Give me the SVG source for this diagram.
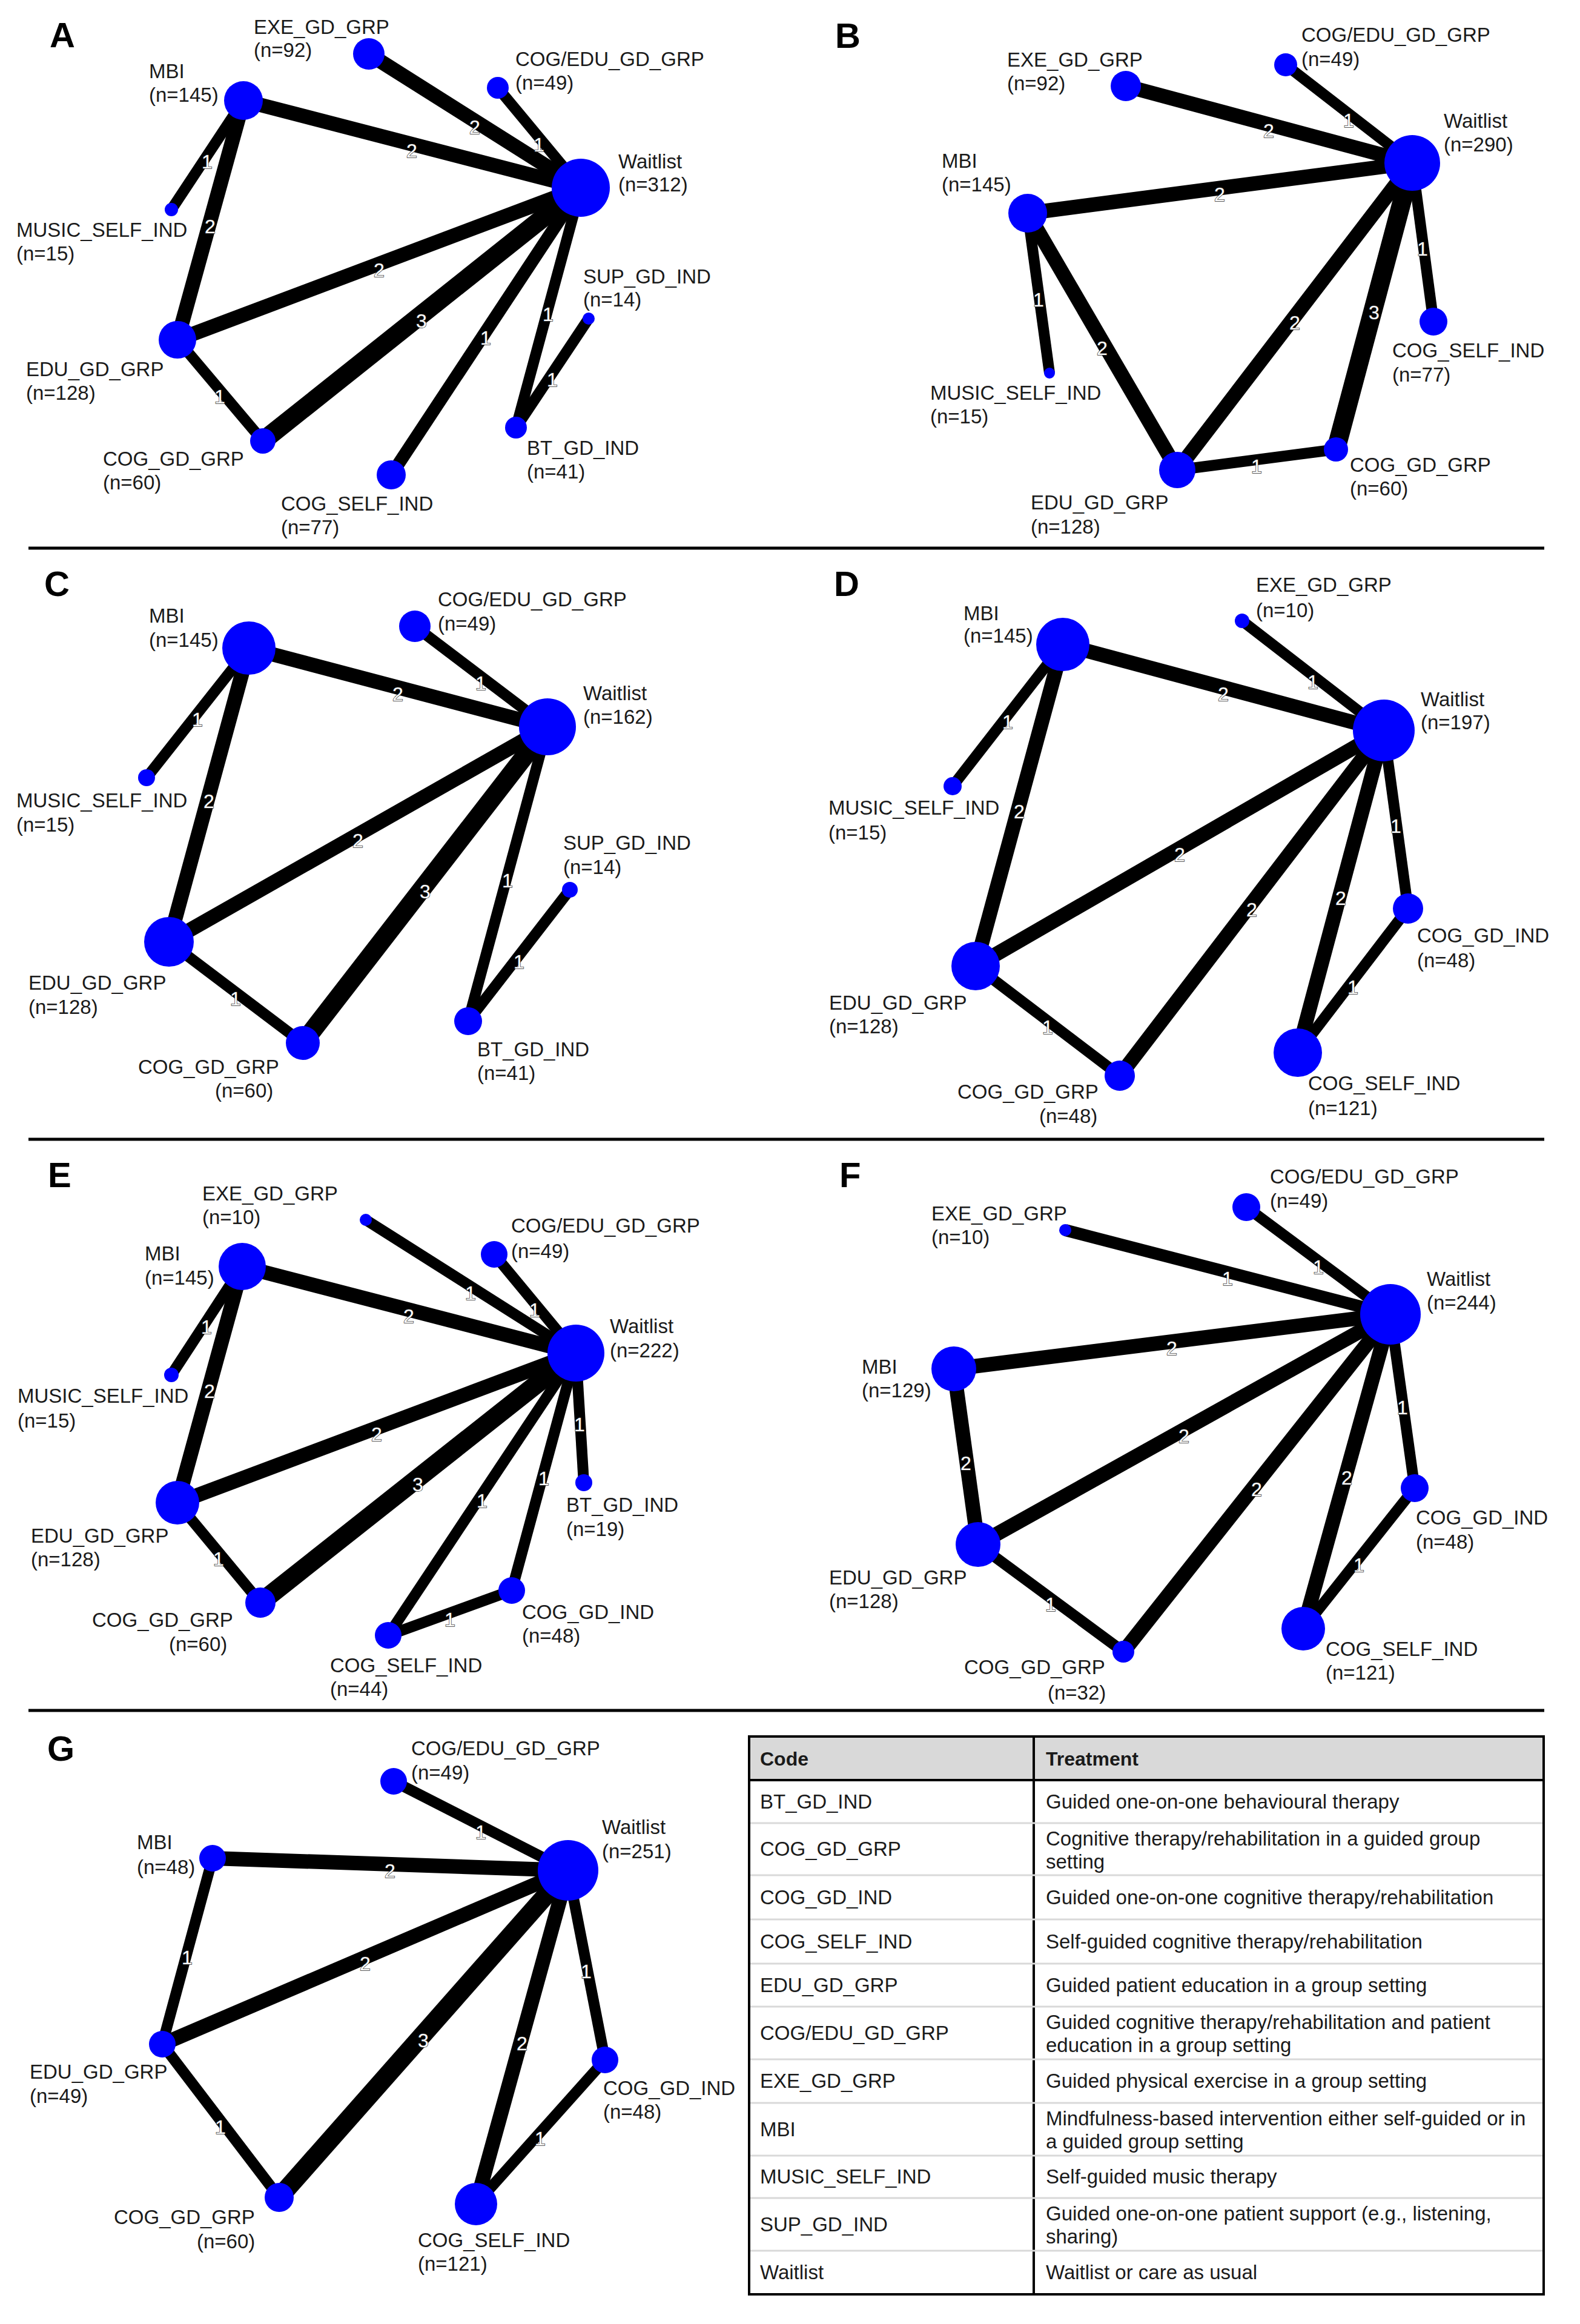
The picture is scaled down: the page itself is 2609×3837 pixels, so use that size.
<svg xmlns="http://www.w3.org/2000/svg" width="2609" height="3837" viewBox="0 0 2609 3837">
<style>
.t{font-family:"Liberation Sans",Arial,sans-serif;font-size:33px;fill:#1a1a1a}
.p{font-family:"Liberation Sans",Arial,sans-serif;font-size:58px;font-weight:bold;fill:#000}
.n{font-family:"Liberation Sans",Arial,sans-serif;font-size:32px;fill:#fff;stroke:#333;stroke-width:1.5px;paint-order:stroke;text-anchor:middle}
.w1{stroke:#000;stroke-width:18;stroke-linecap:butt}
.w2{stroke:#000;stroke-width:24;stroke-linecap:butt}
.w3{stroke:#000;stroke-width:31;stroke-linecap:butt}
.nd{fill:#0000ff}
.sep{stroke:#000;stroke-width:5}
.tb{font-family:"Liberation Sans",Arial,sans-serif;font-size:33px;fill:#1a1a1a}
.th{font-family:"Liberation Sans",Arial,sans-serif;font-size:32px;font-weight:bold;fill:#1a1a1a}
.rl{stroke:#d9d9d9;stroke-width:3}
</style>
<rect x="0" y="0" width="2609" height="3837" fill="#fff"/>
<g id="separators">
<line class="sep" x1="47" y1="905" x2="2550" y2="905"/>
<line class="sep" x1="47" y1="1881" x2="2550" y2="1881"/>
<line class="sep" x1="47" y1="2824" x2="2550" y2="2824"/>
</g>
<g id="panel-letters">
<text class="p" x="82" y="78">A</text>
<text class="p" x="1379" y="79">B</text>
<text class="p" x="73" y="984">C</text>
<text class="p" x="1377" y="984">D</text>
<text class="p" x="79" y="1960">E</text>
<text class="p" x="1386" y="1960">F</text>
<text class="p" x="78" y="2907">G</text>
</g>

<!-- ===== Panel A ===== -->
<g id="A-connectors">
<line class="w2" x1="609" y1="89" x2="959" y2="310"/>
<line class="w1" x1="822" y1="145" x2="959" y2="310"/>
<line class="w2" x1="402" y1="166" x2="959" y2="310"/>
<line class="w1" x1="402" y1="166" x2="283" y2="346"/>
<line class="w2" x1="402" y1="166" x2="293" y2="561"/>
<line class="w2" x1="293" y1="561" x2="959" y2="310"/>
<line class="w1" x1="293" y1="561" x2="434" y2="728"/>
<line class="w3" x1="434" y1="728" x2="959" y2="310"/>
<line class="w1" x1="646" y1="784" x2="959" y2="310" style="stroke-width:21"/>
<line class="w1" x1="852" y1="706" x2="959" y2="310"/>
<line class="w1" x1="852" y1="706" x2="972" y2="526"/>
<text class="n" x="784" y="221">2</text>
<text class="n" x="890" y="250">1</text>
<text class="n" x="680" y="260">2</text>
<text class="n" x="342" y="278">1</text>
<text class="n" x="347" y="385">2</text>
<text class="n" x="626" y="457">2</text>
<text class="n" x="363" y="666">1</text>
<text class="n" x="696" y="541">3</text>
<text class="n" x="802" y="569">1</text>
<text class="n" x="905" y="530">1</text>
<text class="n" x="912" y="638">1</text>
</g>
<g id="A-Waitlist"><circle class="nd" cx="959" cy="310" r="48"/><text class="t" x="1021" y="278">Waitlist</text><text class="t" x="1021" y="316">(n=312)</text></g>
<g id="A-EXE"><circle class="nd" cx="609" cy="89" r="26"/><text class="t" x="419" y="56">EXE_GD_GRP</text><text class="t" x="419" y="94">(n=92)</text></g>
<g id="A-COGEDU"><circle class="nd" cx="822" cy="145" r="18"/><text class="t" x="851" y="109">COG/EDU_GD_GRP</text><text class="t" x="851" y="148">(n=49)</text></g>
<g id="A-MBI"><circle class="nd" cx="402" cy="166" r="32"/><text class="t" x="246" y="129">MBI</text><text class="t" x="246" y="168">(n=145)</text></g>
<g id="A-MUSIC"><circle class="nd" cx="283" cy="346" r="11"/><text class="t" x="27" y="391">MUSIC_SELF_IND</text><text class="t" x="27" y="430">(n=15)</text></g>
<g id="A-SUP"><circle class="nd" cx="972" cy="526" r="10"/><text class="t" x="963" y="468">SUP_GD_IND</text><text class="t" x="963" y="506">(n=14)</text></g>
<g id="A-EDU"><circle class="nd" cx="293" cy="561" r="31"/><text class="t" x="43" y="621">EDU_GD_GRP</text><text class="t" x="43" y="660">(n=128)</text></g>
<g id="A-BT"><circle class="nd" cx="852" cy="706" r="18"/><text class="t" x="870" y="751">BT_GD_IND</text><text class="t" x="870" y="790">(n=41)</text></g>
<g id="A-COGGRP"><circle class="nd" cx="434" cy="728" r="21"/><text class="t" x="170" y="769">COG_GD_GRP</text><text class="t" x="170" y="808">(n=60)</text></g>
<g id="A-COGSELF"><circle class="nd" cx="646" cy="784" r="24"/><text class="t" x="464" y="843">COG_SELF_IND</text><text class="t" x="464" y="882">(n=77)</text></g>

<!-- ===== Panel B ===== -->
<g id="B-connectors">
<line class="w2" x1="1859" y1="142" x2="2332" y2="269"/>
<line class="w1" x1="2123" y1="107" x2="2332" y2="269"/>
<line class="w2" x1="1697" y1="352" x2="2332" y2="269"/>
<line class="w1" x1="1697" y1="352" x2="1733" y2="616"/>
<line class="w2" x1="1697" y1="352" x2="1944" y2="776"/>
<line class="w2" x1="1944" y1="776" x2="2332" y2="269"/>
<line class="w1" x1="1944" y1="776" x2="2206" y2="742"/>
<line class="w3" x1="2206" y1="742" x2="2332" y2="269"/>
<line class="w1" x1="2367" y1="531" x2="2332" y2="269"/>
<text class="n" x="2095" y="227">2</text>
<text class="n" x="2227" y="210">1</text>
<text class="n" x="2014" y="332">2</text>
<text class="n" x="1715" y="506">1</text>
<text class="n" x="1820" y="586">2</text>
<text class="n" x="2138" y="544">2</text>
<text class="n" x="2075" y="781">1</text>
<text class="n" x="2269" y="527">3</text>
<text class="n" x="2349" y="422">1</text>
</g>
<g id="B-Waitlist"><circle class="nd" cx="2332" cy="269" r="46"/><text class="t" x="2384" y="211">Waitlist</text><text class="t" x="2384" y="250">(n=290)</text></g>
<g id="B-EXE"><circle class="nd" cx="1859" cy="142" r="25"/><text class="t" x="1663" y="110">EXE_GD_GRP</text><text class="t" x="1663" y="149">(n=92)</text></g>
<g id="B-COGEDU"><circle class="nd" cx="2123" cy="107" r="19"/><text class="t" x="2149" y="69">COG/EDU_GD_GRP</text><text class="t" x="2149" y="109">(n=49)</text></g>
<g id="B-MBI"><circle class="nd" cx="1697" cy="352" r="32"/><text class="t" x="1555" y="277">MBI</text><text class="t" x="1555" y="316">(n=145)</text></g>
<g id="B-MUSIC"><circle class="nd" cx="1733" cy="616" r="9"/><text class="t" x="1536" y="660">MUSIC_SELF_IND</text><text class="t" x="1536" y="699">(n=15)</text></g>
<g id="B-COGSELF"><circle class="nd" cx="2367" cy="531" r="23"/><text class="t" x="2299" y="590">COG_SELF_IND</text><text class="t" x="2299" y="630">(n=77)</text></g>
<g id="B-COGGRP"><circle class="nd" cx="2206" cy="742" r="20"/><text class="t" x="2229" y="779">COG_GD_GRP</text><text class="t" x="2229" y="818">(n=60)</text></g>
<g id="B-EDU"><circle class="nd" cx="1944" cy="776" r="30"/><text class="t" x="1702" y="841">EDU_GD_GRP</text><text class="t" x="1702" y="881">(n=128)</text></g>

<!-- ===== Panel C ===== -->
<g id="C-connectors">
<line class="w2" x1="411" y1="1070" x2="904" y2="1200"/>
<line class="w1" x1="685" y1="1034" x2="904" y2="1200"/>
<line class="w1" x1="411" y1="1070" x2="242" y2="1284"/>
<line class="w2" x1="411" y1="1070" x2="279" y2="1555"/>
<line class="w2" x1="279" y1="1555" x2="904" y2="1200"/>
<line class="w1" x1="279" y1="1555" x2="500" y2="1722"/>
<line class="w3" x1="500" y1="1722" x2="904" y2="1200"/>
<line class="w1" x1="773" y1="1686" x2="904" y2="1200"/>
<line class="w1" x1="773" y1="1686" x2="941" y2="1469"/>
<text class="n" x="657" y="1157">2</text>
<text class="n" x="794" y="1139">1</text>
<text class="n" x="326" y="1199">1</text>
<text class="n" x="345" y="1334">2</text>
<text class="n" x="591" y="1399">2</text>
<text class="n" x="389" y="1660">1</text>
<text class="n" x="702" y="1483">3</text>
<text class="n" x="838" y="1465">1</text>
<text class="n" x="857" y="1599">1</text>
</g>
<g id="C-Waitlist"><circle class="nd" cx="904" cy="1200" r="47"/><text class="t" x="963" y="1156">Waitlist</text><text class="t" x="963" y="1195">(n=162)</text></g>
<g id="C-MBI"><circle class="nd" cx="411" cy="1070" r="44"/><text class="t" x="246" y="1028">MBI</text><text class="t" x="246" y="1068">(n=145)</text></g>
<g id="C-COGEDU"><circle class="nd" cx="685" cy="1034" r="26"/><text class="t" x="723" y="1001">COG/EDU_GD_GRP</text><text class="t" x="723" y="1041">(n=49)</text></g>
<g id="C-MUSIC"><circle class="nd" cx="242" cy="1284" r="14"/><text class="t" x="27" y="1333">MUSIC_SELF_IND</text><text class="t" x="27" y="1373">(n=15)</text></g>
<g id="C-SUP"><circle class="nd" cx="941" cy="1469" r="13"/><text class="t" x="930" y="1403">SUP_GD_IND</text><text class="t" x="930" y="1443">(n=14)</text></g>
<g id="C-EDU"><circle class="nd" cx="279" cy="1555" r="41"/><text class="t" x="47" y="1634">EDU_GD_GRP</text><text class="t" x="47" y="1674">(n=128)</text></g>
<g id="C-BT"><circle class="nd" cx="773" cy="1686" r="23"/><text class="t" x="788" y="1744">BT_GD_IND</text><text class="t" x="788" y="1783">(n=41)</text></g>
<g id="C-COGGRP"><circle class="nd" cx="500" cy="1722" r="28"/><text class="t" x="228" y="1773">COG_GD_GRP</text><text class="t" x="355" y="1812">(n=60)</text></g>

<!-- ===== Panel D ===== -->
<g id="D-connectors">
<line class="w2" x1="1755" y1="1064" x2="2285" y2="1206"/>
<line class="w1" x1="2051" y1="1025" x2="2285" y2="1206"/>
<line class="w1" x1="1755" y1="1064" x2="1573" y2="1298"/>
<line class="w2" x1="1755" y1="1064" x2="1611" y2="1595"/>
<line class="w2" x1="1611" y1="1595" x2="2285" y2="1206"/>
<line class="w1" x1="1611" y1="1595" x2="1849" y2="1776"/>
<line class="w2" x1="1849" y1="1776" x2="2285" y2="1206"/>
<line class="w2" x1="2143" y1="1738" x2="2285" y2="1206"/>
<line class="w1" x1="2325" y1="1500" x2="2285" y2="1206"/>
<line class="w1" x1="2143" y1="1738" x2="2325" y2="1500"/>
<text class="n" x="2020" y="1157">2</text>
<text class="n" x="2168" y="1137">1</text>
<text class="n" x="1664" y="1203">1</text>
<text class="n" x="1683" y="1351">2</text>
<text class="n" x="1948" y="1422">2</text>
<text class="n" x="1730" y="1707">1</text>
<text class="n" x="2067" y="1513">2</text>
<text class="n" x="2214" y="1494">2</text>
<text class="n" x="2305" y="1375">1</text>
<text class="n" x="2234" y="1641">1</text>
</g>
<g id="D-Waitlist"><circle class="nd" cx="2285" cy="1206" r="51"/><text class="t" x="2346" y="1166">Waitlist</text><text class="t" x="2346" y="1204">(n=197)</text></g>
<g id="D-EXE"><circle class="nd" cx="2051" cy="1025" r="12"/><text class="t" x="2074" y="977">EXE_GD_GRP</text><text class="t" x="2074" y="1019">(n=10)</text></g>
<g id="D-MBI"><circle class="nd" cx="1755" cy="1064" r="44"/><text class="t" x="1591" y="1024">MBI</text><text class="t" x="1591" y="1061">(n=145)</text></g>
<g id="D-MUSIC"><circle class="nd" cx="1573" cy="1298" r="15"/><text class="t" x="1368" y="1345">MUSIC_SELF_IND</text><text class="t" x="1368" y="1386">(n=15)</text></g>
<g id="D-COGIND"><circle class="nd" cx="2325" cy="1500" r="25"/><text class="t" x="2340" y="1556">COG_GD_IND</text><text class="t" x="2340" y="1597">(n=48)</text></g>
<g id="D-EDU"><circle class="nd" cx="1611" cy="1595" r="40"/><text class="t" x="1369" y="1667">EDU_GD_GRP</text><text class="t" x="1369" y="1706">(n=128)</text></g>
<g id="D-COGSELF"><circle class="nd" cx="2143" cy="1738" r="40"/><text class="t" x="2160" y="1800">COG_SELF_IND</text><text class="t" x="2160" y="1841">(n=121)</text></g>
<g id="D-COGGRP"><circle class="nd" cx="1849" cy="1776" r="25"/><text class="t" x="1581" y="1814">COG_GD_GRP</text><text class="t" x="1716" y="1854">(n=48)</text></g>

<!-- ===== Panel E ===== -->
<g id="E-connectors">
<line class="w1" x1="604" y1="2014" x2="951" y2="2234"/>
<line class="w1" x1="816" y1="2071" x2="951" y2="2234"/>
<line class="w2" x1="400" y1="2091" x2="951" y2="2234"/>
<line class="w1" x1="400" y1="2091" x2="283" y2="2270"/>
<line class="w2" x1="400" y1="2091" x2="293" y2="2481"/>
<line class="w2" x1="293" y1="2481" x2="951" y2="2234"/>
<line class="w1" x1="293" y1="2481" x2="430" y2="2646"/>
<line class="w3" x1="430" y1="2646" x2="951" y2="2234"/>
<line class="w1" x1="964" y1="2448" x2="951" y2="2234"/>
<line class="w1" x1="845" y1="2626" x2="951" y2="2234"/>
<line class="w1" x1="641" y1="2700" x2="951" y2="2234"/>
<line class="w1" x1="641" y1="2700" x2="845" y2="2626"/>
<text class="n" x="777" y="2146">1</text>
<text class="n" x="883" y="2174">1</text>
<text class="n" x="675" y="2184">2</text>
<text class="n" x="341" y="2202">1</text>
<text class="n" x="346" y="2308">2</text>
<text class="n" x="622" y="2379">2</text>
<text class="n" x="361" y="2585">1</text>
<text class="n" x="690" y="2462">3</text>
<text class="n" x="957" y="2363">1</text>
<text class="n" x="898" y="2452">1</text>
<text class="n" x="796" y="2489">1</text>
<text class="n" x="743" y="2685">1</text>
</g>
<g id="E-Waitlist"><circle class="nd" cx="951" cy="2234" r="47"/><text class="t" x="1007" y="2201">Waitlist</text><text class="t" x="1007" y="2241">(n=222)</text></g>
<g id="E-EXE"><circle class="nd" cx="604" cy="2014" r="10"/><text class="t" x="334" y="1982">EXE_GD_GRP</text><text class="t" x="334" y="2021">(n=10)</text></g>
<g id="E-COGEDU"><circle class="nd" cx="816" cy="2071" r="22"/><text class="t" x="844" y="2035">COG/EDU_GD_GRP</text><text class="t" x="844" y="2077">(n=49)</text></g>
<g id="E-MBI"><circle class="nd" cx="400" cy="2091" r="39"/><text class="t" x="239" y="2081">MBI</text><text class="t" x="239" y="2121">(n=145)</text></g>
<g id="E-MUSIC"><circle class="nd" cx="283" cy="2270" r="12"/><text class="t" x="29" y="2316">MUSIC_SELF_IND</text><text class="t" x="29" y="2357">(n=15)</text></g>
<g id="E-BT"><circle class="nd" cx="964" cy="2448" r="14"/><text class="t" x="935" y="2496">BT_GD_IND</text><text class="t" x="935" y="2536">(n=19)</text></g>
<g id="E-EDU"><circle class="nd" cx="293" cy="2481" r="36"/><text class="t" x="51" y="2547">EDU_GD_GRP</text><text class="t" x="51" y="2586">(n=128)</text></g>
<g id="E-COGIND"><circle class="nd" cx="845" cy="2626" r="22"/><text class="t" x="862" y="2673">COG_GD_IND</text><text class="t" x="862" y="2712">(n=48)</text></g>
<g id="E-COGGRP"><circle class="nd" cx="430" cy="2646" r="25"/><text class="t" x="152" y="2686">COG_GD_GRP</text><text class="t" x="279" y="2726">(n=60)</text></g>
<g id="E-COGSELF"><circle class="nd" cx="641" cy="2700" r="22"/><text class="t" x="545" y="2761">COG_SELF_IND</text><text class="t" x="545" y="2800">(n=44)</text></g>

<!-- ===== Panel F ===== -->
<g id="F-connectors">
<line class="w1" x1="2058" y1="1993" x2="2296" y2="2170"/>
<line class="w1" x1="1759" y1="2031" x2="2296" y2="2170" style="stroke-width:20"/>
<line class="w2" x1="1575" y1="2260" x2="2296" y2="2170"/>
<line class="w2" x1="1575" y1="2260" x2="1615" y2="2550"/>
<line class="w2" x1="1615" y1="2550" x2="2296" y2="2170"/>
<line class="w1" x1="1615" y1="2550" x2="1855" y2="2727"/>
<line class="w2" x1="1855" y1="2727" x2="2296" y2="2170"/>
<line class="w2" x1="2152" y1="2689" x2="2296" y2="2170"/>
<line class="w1" x1="2336" y1="2457" x2="2296" y2="2170"/>
<line class="w1" x1="2152" y1="2689" x2="2336" y2="2457"/>
<text class="n" x="2177" y="2103">1</text>
<text class="n" x="2027" y="2122">1</text>
<text class="n" x="1935" y="2237">2</text>
<text class="n" x="1595" y="2427">2</text>
<text class="n" x="1955" y="2382">2</text>
<text class="n" x="1735" y="2660">1</text>
<text class="n" x="2075" y="2470">2</text>
<text class="n" x="2224" y="2451">2</text>
<text class="n" x="2316" y="2335">1</text>
<text class="n" x="2244" y="2595">1</text>
</g>
<g id="F-Waitlist"><circle class="nd" cx="2296" cy="2170" r="50"/><text class="t" x="2356" y="2123">Waitlist</text><text class="t" x="2356" y="2162">(n=244)</text></g>
<g id="F-COGEDU"><circle class="nd" cx="2058" cy="1993" r="23"/><text class="t" x="2097" y="1954">COG/EDU_GD_GRP</text><text class="t" x="2097" y="1994">(n=49)</text></g>
<g id="F-EXE"><circle class="nd" cx="1759" cy="2031" r="10"/><text class="t" x="1538" y="2015">EXE_GD_GRP</text><text class="t" x="1538" y="2054">(n=10)</text></g>
<g id="F-MBI"><circle class="nd" cx="1575" cy="2260" r="37"/><text class="t" x="1423" y="2268">MBI</text><text class="t" x="1423" y="2307">(n=129)</text></g>
<g id="F-COGIND"><circle class="nd" cx="2336" cy="2457" r="23"/><text class="t" x="2338" y="2517">COG_GD_IND</text><text class="t" x="2338" y="2557">(n=48)</text></g>
<g id="F-EDU"><circle class="nd" cx="1615" cy="2550" r="37"/><text class="t" x="1369" y="2616">EDU_GD_GRP</text><text class="t" x="1369" y="2655">(n=128)</text></g>
<g id="F-COGSELF"><circle class="nd" cx="2152" cy="2689" r="36"/><text class="t" x="2189" y="2734">COG_SELF_IND</text><text class="t" x="2189" y="2773">(n=121)</text></g>
<g id="F-COGGRP"><circle class="nd" cx="1855" cy="2727" r="18"/><text class="t" x="1592" y="2764">COG_GD_GRP</text><text class="t" x="1730" y="2806">(n=32)</text></g>

<!-- ===== Panel G ===== -->
<g id="G-connectors">
<line class="w1" x1="650" y1="2941" x2="938" y2="3088"/>
<line class="w2" x1="351" y1="3068" x2="938" y2="3088"/>
<line class="w1" x1="351" y1="3068" x2="268" y2="3375"/>
<line class="w2" x1="268" y1="3375" x2="938" y2="3088"/>
<line class="w1" x1="268" y1="3375" x2="461" y2="3628"/>
<line class="w3" x1="461" y1="3628" x2="938" y2="3088"/>
<line class="w2" x1="786" y1="3639" x2="938" y2="3088"/>
<line class="w1" x1="999" y1="3401" x2="938" y2="3088"/>
<line class="w1" x1="786" y1="3639" x2="999" y2="3401"/>
<text class="n" x="794" y="3036">1</text>
<text class="n" x="644" y="3100">2</text>
<text class="n" x="309" y="3243">1</text>
<text class="n" x="603" y="3253">2</text>
<text class="n" x="364" y="3523">1</text>
<text class="n" x="699" y="3380">3</text>
<text class="n" x="862" y="3385">2</text>
<text class="n" x="968" y="3266">1</text>
<text class="n" x="892" y="3542">1</text>
</g>
<g id="G-Waitlist"><circle class="nd" cx="938" cy="3088" r="50"/><text class="t" x="994" y="3028">Waitlist</text><text class="t" x="994" y="3068">(n=251)</text></g>
<g id="G-COGEDU"><circle class="nd" cx="650" cy="2941" r="22"/><text class="t" x="679" y="2898">COG/EDU_GD_GRP</text><text class="t" x="679" y="2938">(n=49)</text></g>
<g id="G-MBI"><circle class="nd" cx="351" cy="3068" r="22"/><text class="t" x="226" y="3053">MBI</text><text class="t" x="226" y="3094">(n=48)</text></g>
<g id="G-EDU"><circle class="nd" cx="268" cy="3375" r="22"/><text class="t" x="49" y="3432">EDU_GD_GRP</text><text class="t" x="49" y="3472">(n=49)</text></g>
<g id="G-COGIND"><circle class="nd" cx="999" cy="3401" r="22"/><text class="t" x="996" y="3459">COG_GD_IND</text><text class="t" x="996" y="3498">(n=48)</text></g>
<g id="G-COGGRP"><circle class="nd" cx="461" cy="3628" r="24"/><text class="t" x="188" y="3672">COG_GD_GRP</text><text class="t" x="325" y="3712">(n=60)</text></g>
<g id="G-COGSELF"><circle class="nd" cx="786" cy="3639" r="35"/><text class="t" x="690" y="3710">COG_SELF_IND</text><text class="t" x="690" y="3749">(n=121)</text></g>

<!-- ===== Legend table ===== -->
<g id="legend-table">
<rect x="1237" y="2867" width="1312" height="72" fill="#d9d9d9"/>
<line x1="1707" y1="2867" x2="1707" y2="3788" stroke="#000" stroke-width="4"/>
<line class="rl" x1="1239" y1="3010" x2="2547" y2="3010"/>
<line class="rl" x1="1239" y1="3096" x2="2547" y2="3096"/>
<line class="rl" x1="1239" y1="3169" x2="2547" y2="3169"/>
<line class="rl" x1="1239" y1="3242" x2="2547" y2="3242"/>
<line class="rl" x1="1239" y1="3313" x2="2547" y2="3313"/>
<line class="rl" x1="1239" y1="3400" x2="2547" y2="3400"/>
<line class="rl" x1="1239" y1="3472" x2="2547" y2="3472"/>
<line class="rl" x1="1239" y1="3559" x2="2547" y2="3559"/>
<line class="rl" x1="1239" y1="3629" x2="2547" y2="3629"/>
<line class="rl" x1="1239" y1="3716" x2="2547" y2="3716"/>
<line x1="1237" y1="2939" x2="2549" y2="2939" stroke="#000" stroke-width="4"/>
<rect x="1237" y="2867" width="1312" height="921" fill="none" stroke="#000" stroke-width="4"/>
<text class="th" x="1255" y="2915">Code</text>
<text class="th" x="1727" y="2915">Treatment</text>
<text class="tb" x="1255" y="2986">BT_GD_IND</text>
<text class="tb" x="1727" y="2986">Guided one-on-one behavioural therapy</text>
<text class="tb" x="1255" y="3064">COG_GD_GRP</text>
<text class="tb" x="1727" y="3047">Cognitive therapy/rehabilitation in a guided group</text>
<text class="tb" x="1727" y="3085">setting</text>
<text class="tb" x="1255" y="3144">COG_GD_IND</text>
<text class="tb" x="1727" y="3144">Guided one-on-one cognitive therapy/rehabilitation</text>
<text class="tb" x="1255" y="3217">COG_SELF_IND</text>
<text class="tb" x="1727" y="3217">Self-guided cognitive therapy/rehabilitation</text>
<text class="tb" x="1255" y="3289">EDU_GD_GRP</text>
<text class="tb" x="1727" y="3289">Guided patient education in a group setting</text>
<text class="tb" x="1255" y="3368">COG/EDU_GD_GRP</text>
<text class="tb" x="1727" y="3350">Guided cognitive therapy/rehabilitation and patient</text>
<text class="tb" x="1727" y="3388">education in a group setting</text>
<text class="tb" x="1255" y="3447">EXE_GD_GRP</text>
<text class="tb" x="1727" y="3447">Guided physical exercise in a group setting</text>
<text class="tb" x="1255" y="3527">MBI</text>
<text class="tb" x="1727" y="3509">Mindfulness-based intervention either self-guided or in</text>
<text class="tb" x="1727" y="3547">a guided group setting</text>
<text class="tb" x="1255" y="3605">MUSIC_SELF_IND</text>
<text class="tb" x="1727" y="3605">Self-guided music therapy</text>
<text class="tb" x="1255" y="3684">SUP_GD_IND</text>
<text class="tb" x="1727" y="3666">Guided one-on-one patient support (e.g., listening,</text>
<text class="tb" x="1727" y="3704">sharing)</text>
<text class="tb" x="1255" y="3763">Waitlist</text>
<text class="tb" x="1727" y="3763">Waitlist or care as usual</text>
</g>
</svg>
